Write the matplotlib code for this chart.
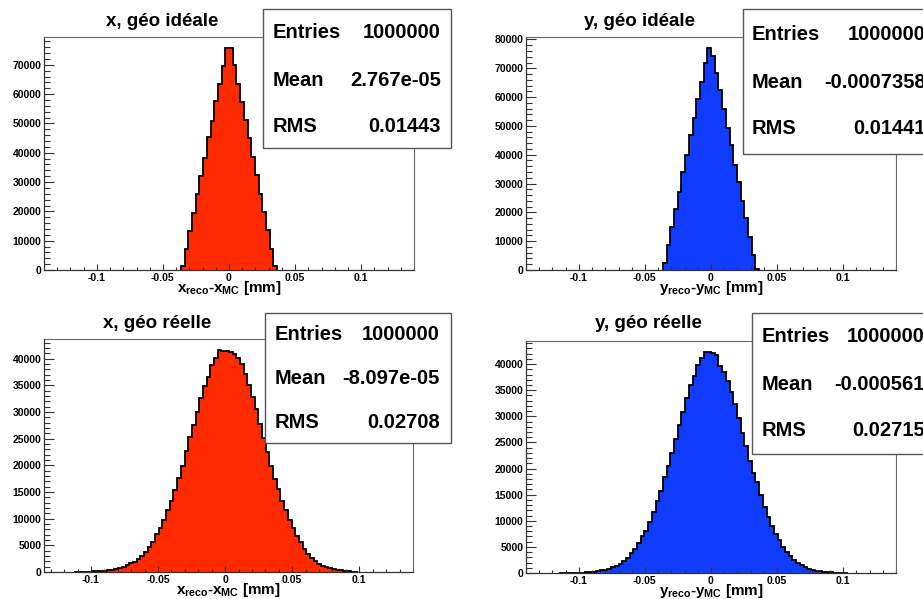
"""
Residuals x/y (reco - MC) for ideal and real geometry, ROOT-style 2x2 histograms.
Writes out.png.
"""

import numpy as np

import matplotlib
matplotlib.use('Agg')
import matplotlib.pyplot as plt
from matplotlib.ticker import MultipleLocator, FuncFormatter
from matplotlib.patches import Rectangle

W, H = 923, 599

plt.rcParams['font.family'] = ['Liberation Sans', 'DejaVu Sans']
plt.rcParams['font.weight'] = 'bold'
plt.rcParams['axes.unicode_minus'] = False
plt.rcParams['mathtext.fontset'] = 'custom'
plt.rcParams['mathtext.rm'] = 'Liberation Sans:bold'
plt.rcParams['mathtext.it'] = 'Liberation Sans:bold'
plt.rcParams['mathtext.bf'] = 'Liberation Sans:bold'

# ── Data (bin contents) ──────────────────────────────────────────────────────
# first bin index relative to 0 (bin j covers [j*w, (j+1)*w])
X_IDEAL_FIRST = -13
X_IDEAL_WIDTH = 0.0028
X_IDEAL_COUNTS = [1400, 7070, 13200, 19600, 25800, 32200, 38200, 45300, 50700,
                  57500, 63300, 69600, 75700, 75600, 70000, 63400, 57200, 51100,
                  44900, 38500, 32300, 26000, 19800, 13700, 7300, 1400]

Y_IDEAL_FIRST = -13
Y_IDEAL_WIDTH = 0.0028
Y_IDEAL_COUNTS = [2300, 8600, 14800, 21300, 27200, 33900, 39800, 46700, 52800,
                  59200, 65200, 71700, 77000, 74200, 68200, 62400, 55800, 49400,
                  43400, 36600, 30500, 23800, 17900, 11600, 5100, 500]

X_REAL_FIRST = -41
X_REAL_WIDTH = 0.00275
X_REAL_COUNTS = [10, 18, 30, 50, 75, 105, 150, 200, 270, 350, 450, 560, 790,
                 1020, 1300, 1600, 1940, 2375, 2940, 3690, 4625, 5560, 7060,
                 8190, 9750, 11690, 13375, 15440, 17690, 19810, 22690, 25250,
                 27560, 29940, 32690, 34940, 36625, 38810, 40190, 41625, 41500,
                 41500, 41310, 40810, 40190, 38940, 37060, 35060, 32870, 30560,
                 27750, 25060, 22560, 19875, 17440, 15560, 13375, 11625, 9750,
                 8190, 6810, 5560, 4310, 3440, 2690, 2060, 1560, 1190, 875, 690,
                 500, 375, 290, 190, 125, 60, 30]

Y_REAL_FIRST = -41
Y_REAL_WIDTH = 0.0028
Y_REAL_COUNTS = [4, 8, 15, 25, 40, 60, 90, 130, 180, 250, 350, 480, 640, 850,
                 1100, 1400, 1800, 2300, 2950, 3750, 4650, 5790, 7050, 8130,
                 9850, 11750, 13720, 15750, 18290, 20390, 22940, 25600, 28330,
                 30800, 33530, 36080, 37790, 39880, 41150, 42300, 42300, 42200,
                 41790, 39690, 38500, 36800, 34600, 32300, 29720, 26860, 24330,
                 21470, 19240, 17340, 14930, 12570, 10670, 8950, 7500, 6230,
                 4950, 4000, 3180, 2550, 1910, 1470, 1090, 830, 640, 450, 320,
                 230, 160, 110, 70, 45, 25, 12]

TITLES = ['x, géo idéale', 'y, géo idéale', 'x, géo réelle', 'y, géo réelle']
XLABELS = [r'$x_{reco}$-$x_{MC}$ [mm]', r'$y_{reco}$-$y_{MC}$ [mm]',
           r'$x_{reco}$-$x_{MC}$ [mm]', r'$y_{reco}$-$y_{MC}$ [mm]']

STAT_NAMES = ['Entries', 'Mean', 'RMS']
STATS = [['1000000', '2.767e-05', '0.01443'],
         ['1000000', '-0.0007358', '0.01441'],
         ['1000000', '-8.097e-05', '0.02708'],
         ['1000000', '-0.000561', '0.02715']]

RED = '#ff2a00'
BLUE = '#0f3cff'

# ── Layout (pixels in the 923x599 canvas) ────────────────────────────────────
PANELS = [
    dict(counts=X_IDEAL_COUNTS, first=X_IDEAL_FIRST, width=X_IDEAL_WIDTH,
         color=RED, xlim=(-0.14, 0.14), ymaj=10000, ymin=2000,
         ax=(44, 37, 414, 270), title=(162, 22),
         box=(263, 9, 451, 148), tx=273, vx=441, rows=(33, 80, 126)),
    dict(counts=Y_IDEAL_COUNTS, first=Y_IDEAL_FIRST, width=Y_IDEAL_WIDTH,
         color=BLUE, xlim=(-0.14, 0.14), ymaj=10000, ymin=2000,
         ax=(526, 37, 896, 270), title=(640, 22),
         box=(743, 9, 940, 154), tx=752, vx=926, rows=(34, 82, 129)),
    dict(counts=X_REAL_COUNTS, first=X_REAL_FIRST, width=X_REAL_WIDTH,
         color=RED, xlim=(-0.135, 0.14), ymaj=5000, ymin=1000,
         ax=(44, 339, 413, 572), title=(157, 324),
         box=(265, 313, 451, 443), tx=275, vx=440, rows=(334, 379, 422)),
    dict(counts=Y_REAL_COUNTS, first=Y_REAL_FIRST, width=Y_REAL_WIDTH,
         color=BLUE, xlim=(-0.14, 0.14), ymaj=5000, ymin=1000,
         ax=(526, 341, 896, 573), title=(648, 324),
         box=(752, 313, 940, 454), tx=762, vx=925, rows=(337, 384, 430)),
]


def fx(x):
    return x / W


def fy(y):
    return 1 - y / H


def draw_panel(fig, p, title, xlabel, stats):
    l, t, r, b = p['ax']
    ax = fig.add_axes([fx(l), fy(b), (r - l) / W, (b - t) / H])

    counts = np.array(p['counts'], dtype=float)
    edges = (np.arange(len(counts) + 1) + p['first']) * p['width']
    ax.stairs(counts, edges, baseline=0, fill=True,
              facecolor=p['color'], edgecolor='none')
    ax.stairs(counts, edges, baseline=0, color='black', lw=1.3)

    ax.set_xlim(*p['xlim'])
    ax.set_ylim(0, counts.max() * 1.05)

    ax.xaxis.set_major_locator(MultipleLocator(0.05))
    ax.xaxis.set_minor_locator(MultipleLocator(0.01))
    ax.yaxis.set_major_locator(MultipleLocator(p['ymaj']))
    ax.yaxis.set_minor_locator(MultipleLocator(p['ymin']))
    ax.xaxis.set_major_formatter(FuncFormatter(lambda v, _: '%g' % round(v, 4)))
    ax.yaxis.set_major_formatter(FuncFormatter(lambda v, _: '%d' % v))

    ax.tick_params(axis='both', which='both', direction='in',
                   color='#333333', width=0.8, labelsize=7.5)
    ax.tick_params(axis='x', which='major', length=4.5, pad=2)
    ax.tick_params(axis='x', which='minor', length=2.5)
    ax.tick_params(axis='y', which='major', length=7.5, pad=2)
    ax.tick_params(axis='y', which='minor', length=4)
    for lab in ax.get_xticklabels() + ax.get_yticklabels():
        lab.set_fontweight('bold')

    for side in ['left', 'bottom']:
        ax.spines[side].set_color('#333333')
        ax.spines[side].set_linewidth(0.9)
    for side in ['top', 'right']:
        ax.spines[side].set_color('#666666')
        ax.spines[side].set_linewidth(0.8)

    # title, axis label
    fig.text(fx(p['title'][0]), fy(p['title'][1]), title,
             ha='center', va='center', fontsize=13.5, fontweight='bold')
    fig.text(fx((l + r) / 2), fy(b + 22), xlabel, ha='center', va='baseline',
             fontsize=11, fontweight='bold')

    # stats box
    bl, bt, br, bb = p['box']
    fig.add_artist(Rectangle((fx(bl), fy(bb)), (br - bl) / W, (bb - bt) / H,
                             transform=fig.transFigure, facecolor='white',
                             edgecolor='#555555', lw=1.0, zorder=5))
    for name, val, ry in zip(STAT_NAMES, stats, p['rows']):
        fig.text(fx(p['tx']), fy(ry), name, ha='left', va='center',
                 fontsize=14.5, fontweight='bold', zorder=6)
        fig.text(fx(p['vx']), fy(ry), val, ha='right', va='center',
                 fontsize=14.5, fontweight='bold', zorder=6)
    return ax


def main():
    fig = plt.figure(figsize=(W / 100, H / 100), dpi=100)
    fig.patch.set_facecolor('white')
    for p, title, xlabel, stats in zip(PANELS, TITLES, XLABELS, STATS):
        draw_panel(fig, p, title, xlabel, stats)
    fig.savefig('out.png', dpi=100)
    plt.close(fig)


if __name__ == '__main__':
    main()
